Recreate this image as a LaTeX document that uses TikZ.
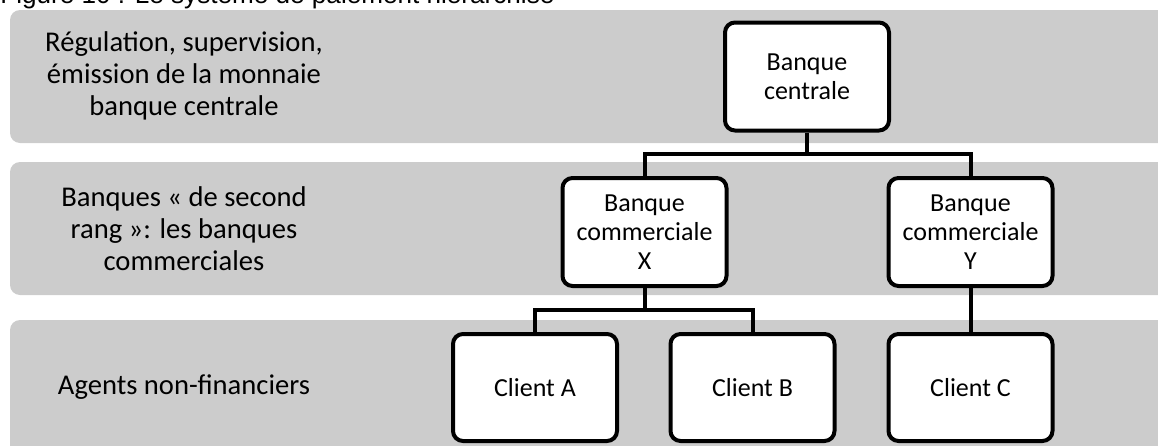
\documentclass[tikz,border=0pt]{standalone}
\usepackage{fontspec}
\setmainfont{Carlito}
\newfontfamily\capfont{Liberation Sans}
\definecolor{bandgray}{HTML}{CCCCCC}
\begin{document}
\begin{tikzpicture}[x=0.5pt,y=-0.5pt,
  band/.style={fill=bandgray, draw=none, rounded corners=5pt},
  lbl/.style={align=center, inner sep=0pt, font=\fontsize{14.3pt}{15.9pt}\selectfont},
  box/.style={draw=black, line width=2pt, fill=white, rounded corners=5pt,
    align=center, inner sep=0pt, minimum width=82pt, minimum height=54pt,
    font=\fontsize{13pt}{14.5pt}\selectfont},
  link/.style={draw=black, line width=2pt}]
\useasboundingbox (0,0) rectangle (1158,445);
% caption (cut off at the top)
\node[anchor=base west, inner sep=0pt, font=\capfont\fontsize{10pt}{12pt}\selectfont] (cap) at (0,3)
  {\resizebox{277pt}{!}{Figure 10 : Le système de paiement hiérarchisé}};
% bands
\path[band] (10,10) rectangle (1180,143);
\path[band] (10,162) rectangle (1180,295);
\path[band] (10,320) rectangle (1180,470);
% band labels
\node[lbl] (l1) at (184,76) {Régulation, supervision,\\émission de la monnaie\\banque centrale};
\node[lbl] (l2) at (184,228.5) {Banques «~de second\\rang~»: les banques\\commerciales};
\node[lbl] (l3) at (184,387) {Agents non-financiers};
% boxes
\node[box] (cb) at (807,76.5) {Banque\\centrale};
\node[box] (bx) at (644.5,232) {Banque\\commerciale\\X};
\node[box] (by) at (970.5,232) {Banque\\commerciale\\Y};
\node[box, minimum height=53.5pt] (ca) at (535,387.5) {Client A};
\node[box, minimum height=53.5pt] (cbb) at (752.5,387.5) {Client B};
\node[box, minimum height=53.5pt] (cc) at (970.5,387.5) {Client C};
% connectors
\coordinate (j1) at (807,154);
\coordinate (j2) at (644.5,310);
\draw[link] (cb.south) -- (j1);
\draw[link] (bx.north) |- (j1) -| (by.north);
\draw[link] (bx.south) -- (j2);
\draw[link] (ca.north) |- (j2) -| (cbb.north);
\draw[link] (by.south) -- (cc.north);
\end{tikzpicture}
\end{document}
